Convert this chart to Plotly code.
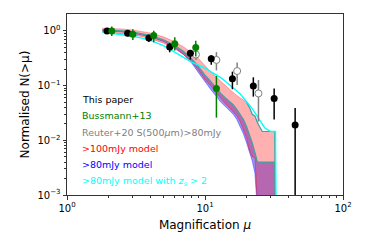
import plotly.graph_objects as go

# ---------------- data ----------------
# Model grid (magnification)
mu_grid = [1.8, 2, 2.5, 3, 3.5, 4, 5, 6, 7, 8, 9, 10, 11, 12, 13, 14, 15, 16, 17,
           18, 19, 20, 21, 22, 23, 24, 25, 26, 27, 28, 29, 30, 31, 32, 32.7]

# >100mJy model band
red_upper = [1.12, 1.12, 1.09, 1.04, 0.98, 0.92, 0.78, 0.64, 0.51, 0.40, 0.31, 0.23,
             0.18, 0.145, 0.12, 0.10, 0.085, 0.075, 0.066, 0.06, 0.056, 0.05, 0.04,
             0.03, 0.028, 0.021, 0.017, 0.0145, 0.0145, 0.0145, 0.0145, 0.0145,
             0.0145, 0.0145, 0.0001]
red_lower = [0.96, 0.94, 0.90, 0.85, 0.79, 0.73, 0.60, 0.48, 0.37, 0.28, 0.19, 0.13,
             0.10, 0.075, 0.058, 0.047, 0.040, 0.034, 0.028, 0.022, 0.016, 0.011,
             0.0065, 0.005, 0.0048, 0.0001, 0.0001, 0.0001, 0.0001, 0.0001, 0.0001,
             0.0001, 0.0001, 0.0001, 0.0001]

# >80mJy model band
blue_upper = [1.05, 1.04, 1.00, 0.95, 0.89, 0.83, 0.69, 0.55, 0.42, 0.31, 0.22, 0.155,
              0.12, 0.09, 0.072, 0.06, 0.052, 0.045, 0.037, 0.03, 0.024, 0.018, 0.013,
              0.009, 0.006, 0.004, 0.004, 0.004, 0.004, 0.004, 0.004, 0.004, 0.004,
              0.004, 0.0001]
blue_lower = [1.01, 1.00, 0.96, 0.91, 0.85, 0.78, 0.64, 0.50, 0.37, 0.26, 0.17, 0.115,
              0.085, 0.065, 0.05, 0.042, 0.036, 0.030, 0.024, 0.018, 0.013, 0.009,
              0.006, 0.0042, 0.0025, 0.0001, 0.0001, 0.0001, 0.0001, 0.0001, 0.0001,
              0.0001, 0.0001, 0.0001, 0.0001]

# >80mJy model with z_s > 2
mu_cyan = [1.8, 2, 2.5, 3, 3.5, 4, 5, 6, 7, 8, 9, 10, 11, 12, 13, 14, 15, 16, 17,
           18, 19, 20, 21, 22, 23, 24, 25, 26, 27, 28, 29, 30, 31, 32.4, 32.9]
cyan_vals = [0.95, 0.92, 0.86, 0.80, 0.74, 0.68, 0.54, 0.42, 0.33, 0.27, 0.235, 0.21,
             0.18, 0.16, 0.14, 0.12, 0.105, 0.093, 0.08, 0.07, 0.06, 0.05, 0.044,
             0.038, 0.032, 0.027, 0.022, 0.019, 0.017, 0.016, 0.015, 0.0145, 0.0145,
             0.0145, 0.0001]

# This paper
mu_this = [1.95, 2.75, 3.92, 5.55, 7.83, 11.1, 15.8, 22.4, 31.7, 45.0]
n_this = [1.0, 0.906, 0.745, 0.51, 0.39, 0.31, 0.134, 0.098, 0.058, 0.019]
n_this_hi = [1.08, 1.02, 0.85, 0.595, 0.45, 0.36, 0.18, 0.142, 0.089, 0.039]
n_this_lo = [0.93, 0.80, 0.63, 0.407, 0.30, 0.24, 0.086, 0.063, 0.024, 0.0005]

# Bussmann+13
mu_bus = [2.11, 3.0, 4.25, 6.04, 8.57, 12.1]
n_bus = [1.0, 0.87, 0.83, 0.586, 0.50, 0.089]
n_bus_hi = [1.2, 1.07, 1.01, 0.77, 0.665, 0.15]
n_bus_lo = [0.81, 0.685, 0.62, 0.44, 0.34, 0.026]

# Reuter+20
mu_reu = [8.6, 12.1, 17.1, 24.4]
n_reu = [0.37, 0.295, 0.185, 0.072]
n_reu_hi = [0.42, 0.41, 0.264, 0.127]
n_reu_lo = [0.295, 0.19, 0.103, 0.022]

legend_labels = ["This paper", "Bussmann+13", "Reuter+20 S(500<i>μ</i>m)>80mJy",
                 ">100mJy model", ">80mJy model", ">80mJy model with <i>z<sub>s</sub></i> > 2"]
legend_colors = ["black", "green", "#808080", "red", "blue", "cyan"]

FONT = "DejaVu Sans"

fig = go.Figure()

# blue band
fig.add_trace(go.Scatter(x=mu_grid, y=blue_lower, mode="lines",
                         line=dict(color="rgba(0,0,255,0.45)", width=0.8),
                         showlegend=False, hoverinfo="skip"))
fig.add_trace(go.Scatter(x=mu_grid, y=blue_upper, mode="lines", fill="tonexty",
                         fillcolor="rgba(0,0,255,0.41)",
                         line=dict(color="rgba(0,0,255,0.0)", width=0),
                         showlegend=False, hoverinfo="skip"))
# red band
fig.add_trace(go.Scatter(x=mu_grid, y=red_lower, mode="lines",
                         line=dict(color="rgba(255,0,0,0.5)", width=0.8),
                         showlegend=False, hoverinfo="skip"))
fig.add_trace(go.Scatter(x=mu_grid, y=red_upper, mode="lines", fill="tonexty",
                         fillcolor="rgba(255,0,0,0.31)",
                         line=dict(color="rgba(255,0,0,0.35)", width=0.8),
                         showlegend=False, hoverinfo="skip"))
# teal outlines
fig.add_trace(go.Scatter(x=mu_grid, y=blue_upper, mode="lines",
                         line=dict(color="#3aa6a0", width=1.2),
                         showlegend=False, hoverinfo="skip"))
fig.add_trace(go.Scatter(x=mu_grid[21:], y=red_upper[21:], mode="lines",
                         line=dict(color="#3aa6a0", width=1.2),
                         showlegend=False, hoverinfo="skip"))
# cyan
fig.add_trace(go.Scatter(x=mu_cyan, y=cyan_vals, mode="lines",
                         line=dict(color="cyan", width=1.4),
                         showlegend=False, hoverinfo="skip"))


def pts(mu, n, hi, lo, color, filled=True):
    return go.Scatter(
        x=mu, y=n, mode="markers",
        marker=dict(size=7, color=color if filled else "white",
                    line=dict(color=color, width=1 if not filled else 0)),
        error_y=dict(type="data", symmetric=False,
                     array=[h - v for h, v in zip(hi, n)],
                     arrayminus=[v - l for v, l in zip(n, lo)],
                     color=color, thickness=1.5, width=0),
        showlegend=False, hoverinfo="skip")


fig.add_trace(pts(mu_reu, n_reu, n_reu_hi, n_reu_lo, "#808080", filled=False))
fig.add_trace(pts(mu_this, n_this, n_this_hi, n_this_lo, "black"))
fig.add_trace(pts(mu_bus, n_bus, n_bus_hi, n_bus_lo, "green"))

# text legend
leg_y = [0.529, 0.440, 0.348, 0.256, 0.167, 0.076]
for lab, col, yy in zip(legend_labels, legend_colors, leg_y):
    fig.add_annotation(x=0.048, y=yy, xref="paper", yref="paper", text=lab,
                       showarrow=False, xanchor="left", yanchor="middle",
                       font=dict(family=FONT, size=9.5, color=col))

minor_x = [m * 10 ** e for e in range(0, 2) for m in range(2, 10)]
minor_y = [m * 10.0 ** e for e in range(-3, 0) for m in range(2, 10)]

fig.update_xaxes(type="log", range=[0, 2], automargin=False,
                 tickvals=[1, 10, 100],
                 ticktext=["10<sup>0</sup>", "10<sup>1</sup>", "10<sup>2</sup>"],
                 ticks="outside", ticklen=3.5, tickwidth=0.8, tickcolor="#333",
                 minor=dict(tickvals=minor_x, ticks="outside", ticklen=2,
                            tickwidth=0.6, tickcolor="#333", showgrid=False),
                 showline=True, linecolor="#333", linewidth=1, mirror=True,
                 showgrid=False, zeroline=False,
                 tickfont=dict(family=FONT, size=10, color="black"),
                 title=dict(text="Magnification <i>μ</i>", standoff=8,
                            font=dict(family=FONT, size=12, color="black")))
fig.update_yaxes(type="log", range=[-3, 0.31], automargin=False,
                 tickvals=[0.001, 0.01, 0.1, 1],
                 ticktext=["10<sup>−3</sup>", "10<sup>−2</sup>", "10<sup>−1</sup>", "10<sup>0</sup>"],
                 ticks="outside", ticklen=3.5, tickwidth=0.8, tickcolor="#333",
                 minor=dict(tickvals=minor_y, ticks="outside", ticklen=2,
                            tickwidth=0.6, tickcolor="#333", showgrid=False),
                 showline=True, linecolor="#333", linewidth=1, mirror=True,
                 showgrid=False, zeroline=False,
                 tickfont=dict(family=FONT, size=10, color="black"),
                 title=dict(text="Normalised N(>μ)", standoff=5,
                            font=dict(family=FONT, size=12, color="black")))

# page body has an 8px default margin, so the figure is offset by 8px
fig.update_layout(width=359, height=235,
                  margin=dict(l=59, r=24, t=6, b=48),
                  paper_bgcolor="white", plot_bgcolor="white",
                  showlegend=False)

fig.write_html("out.html")
